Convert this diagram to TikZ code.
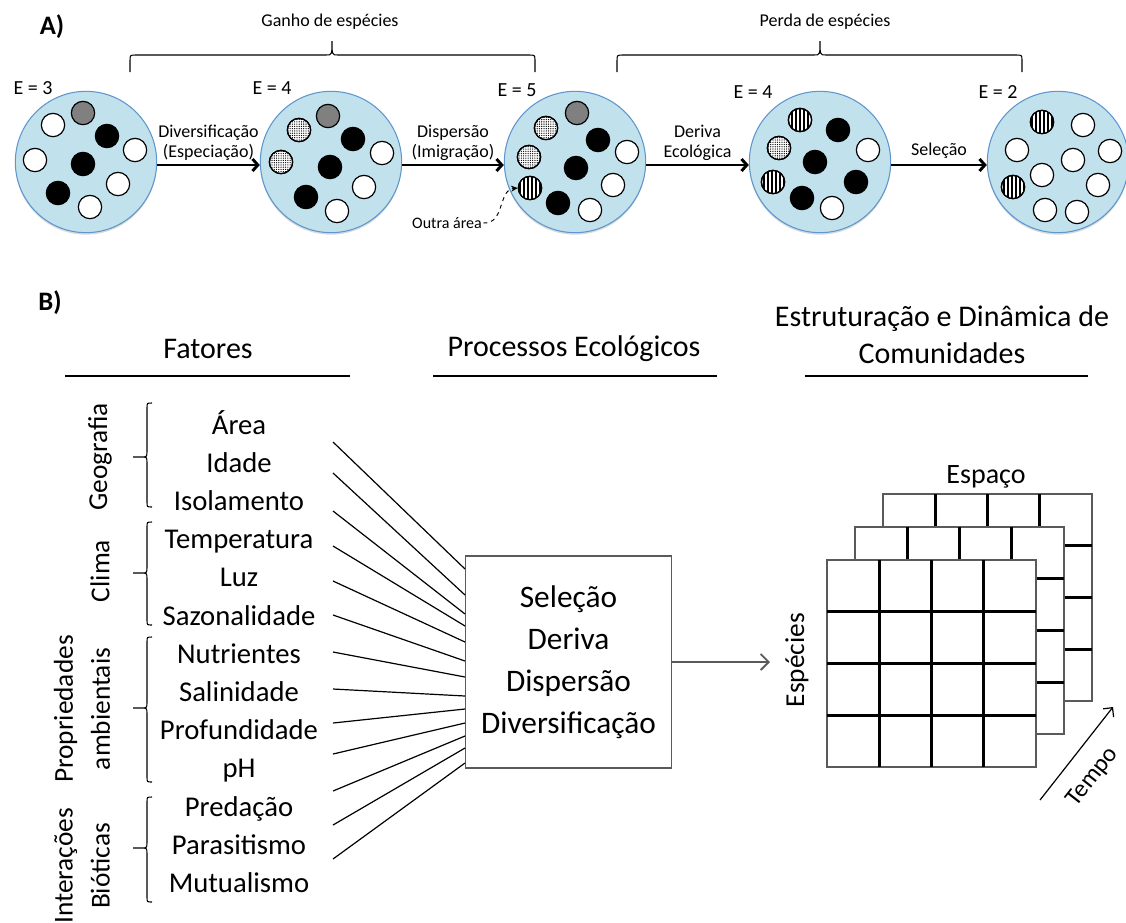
\documentclass[tikz,border=0pt]{standalone}
\usepackage{fontspec}
\setmainfont{Carlito}
\usetikzlibrary{arrows.meta,shadows,patterns.meta}

\definecolor{tankfill}{RGB}{193,226,236}
\definecolor{tankline}{RGB}{95,150,205}
\definecolor{ballgray}{RGB}{128,128,128}
\definecolor{edgegray}{RGB}{90,90,90}

\tikzset{
  tank/.style={circle, minimum size=106pt, inner sep=0pt, fill=tankfill, draw=tankline, line width=0.8pt,
    drop shadow={opacity=0.3, shadow xshift=0pt, shadow yshift=-1.5pt}},
  spwhite/.style={circle, minimum size=17.5pt, inner sep=0pt, draw, line width=0.9pt, fill=white},
  spblack/.style={spwhite, fill=black},
  spgray/.style={spwhite, fill=ballgray},
  spdots/.style={spwhite, postaction={pattern={Dots[radius=0.5pt,distance=1.7pt]}}, postaction={draw, line width=0.9pt}},
  spstripe/.style={spwhite, postaction={pattern={Lines[angle=90,distance=3pt,line width=1.3pt]}}, postaction={draw, line width=0.9pt}},
  flow/.style={line width=2.2pt, -{Straight Barb[length=4pt,width=9pt]}},
  lbl/.style={font=\fontsize{13.5}{15}\selectfont, align=center, inner sep=1pt},
  elbl/.style={font=\fontsize{15}{17}\selectfont},
  panel/.style={font=\fontsize{20}{24}\selectfont\bfseries},
  head/.style={font=\fontsize{22.5}{28}\selectfont, align=center},
  factor/.style={font=\fontsize{21.5}{26}\selectfont, anchor=base},
  group/.style={font=\fontsize{20.5}{27.75}\selectfont, align=center, rotate=90},
  rulebar/.style={line width=2.2pt},
  link/.style={line width=0.9pt},
  procbox/.style={draw=edgegray, line width=0.9pt, minimum width=155pt, minimum height=159pt,
    align=center, font=\fontsize{23.5}{31.5}\selectfont},
  cellbar/.style={line width=2.2pt},
  outarrow/.style={draw=edgegray, line width=1pt, -{Straight Barb[length=6pt,width=12pt,line width=1.4pt]}}
}

\begin{document}
\begin{tikzpicture}[x=0.75pt, y=-0.75pt]
\useasboundingbox (0,0) rectangle (1126,922);

% A) species gain and loss
\node[panel] (pa) at (52,27) {A)};
\draw[line width=0.8pt] (130,72) -- (130,61) .. controls (130,55) .. (136,55) -- (326,55)
  .. controls (332,55) .. (332,41) .. controls (332,55) .. (338,55) -- (529,55)
  .. controls (535,55) .. (535,61) -- (535,72);
\draw[line width=0.8pt] (617,72) -- (617,61) .. controls (617,55) .. (623,55) -- (814,55)
  .. controls (820,55) .. (820,41) .. controls (820,55) .. (826,55) -- (1016,55)
  .. controls (1022,55) .. (1022,61) -- (1022,72);
\node[lbl] (gain) at (330,22) {Ganho de espécies};
\node[lbl] (loss) at (825,22) {Perda de espécies};

\node[tank] (c1) at (86,162) {};
\node[tank] (c2) at (331,162) {};
\node[tank] (c3) at (575,162) {};
\node[tank] (c4) at (820,162) {};
\node[tank] (c5) at (1058,162) {};

\node[elbl] (e1) at (33,88) {E = 3};
\node[elbl] (e2) at (272,88) {E = 4};
\node[elbl] (e3) at (517,90) {E = 5};
\node[elbl] (e4) at (753,92) {E = 4};
\node[elbl] (e5) at (998,92) {E = 2};

% community 1
\node[spgray] (c1a) at (83,113) {};
\node[spwhite] (c1b) at (53,125) {};
\node[spblack] (c1c) at (107,136) {};
\node[spwhite] (c1d) at (135,150) {};
\node[spwhite] (c1e) at (35,160) {};
\node[spblack] (c1f) at (83,164) {};
\node[spwhite] (c1g) at (118,184) {};
\node[spblack] (c1h) at (58,193) {};
\node[spwhite] (c1i) at (90,207) {};
% community 2
\node[spgray] (c2a) at (328,116) {};
\node[spdots] (c2b) at (299,130) {};
\node[spblack] (c2c) at (353,139) {};
\node[spwhite] (c2d) at (382,153) {};
\node[spdots] (c2e) at (281,162) {};
\node[spblack] (c2f) at (330,167) {};
\node[spwhite] (c2g) at (364,187) {};
\node[spblack] (c2h) at (306,197) {};
\node[spwhite] (c2i) at (337,211) {};
% community 3
\node[spgray] (c3a) at (577,113) {};
\node[spdots] (c3b) at (546,128) {};
\node[spblack] (c3c) at (598,140) {};
\node[spwhite] (c3d) at (627,152) {};
\node[spdots] (c3e) at (529,157) {};
\node[spblack] (c3f) at (576,168) {};
\node[spwhite] (c3g) at (613,185) {};
\node[spstripe] (c3h) at (530,188) {};
\node[spblack] (c3i) at (558,203) {};
\node[spwhite] (c3j) at (590,210) {};
% community 4
\node[spstripe] (c4a) at (800,120) {};
\node[spblack] (c4b) at (838,130) {};
\node[spdots] (c4c) at (779,148) {};
\node[spwhite] (c4d) at (868,150) {};
\node[spblack] (c4e) at (815,162) {};
\node[spstripe] (c4f) at (773,182) {};
\node[spblack] (c4g) at (856,182) {};
\node[spblack] (c4h) at (802,198) {};
\node[spwhite] (c4i) at (832,208) {};
% community 5
\node[spstripe] (c5a) at (1042,122) {};
\node[spwhite] (c5b) at (1083,125) {};
\node[spwhite] (c5c) at (1017,150) {};
\node[spwhite] (c5d) at (1110,151) {};
\node[spwhite] (c5e) at (1073,160) {};
\node[spwhite] (c5f) at (1042,175) {};
\node[spstripe] (c5g) at (1013,187) {};
\node[spwhite] (c5h) at (1098,185) {};
\node[spwhite] (c5i) at (1045,210) {};
\node[spwhite] (c5j) at (1077,212) {};

\draw[flow] ([yshift=-2.25pt]c1.east) -- ([yshift=-2.25pt]c2.west)
  node[midway, above=1pt, lbl] {Diversificação\\(Especiação)};
\draw[flow] ([yshift=-2.25pt]c2.east) -- ([yshift=-2.25pt]c3.west)
  node[midway, above=1pt, lbl] {Dispersão\\(Imigração)};
\draw[flow] ([yshift=-2.25pt]c3.east) -- ([yshift=-2.25pt]c4.west)
  node[midway, above=1pt, lbl] {Deriva\\Ecológica};
\draw[flow] ([yshift=-2.25pt]c4.east) -- ([yshift=-2.25pt]c5.west)
  node[midway, above=3pt, lbl] {Seleção};

\node[lbl, font=\fontsize{12}{14}\selectfont] (outra) at (447,223) {Outra área};
\draw[line width=0.7pt, dashed, -{Stealth[length=5pt,width=4.5pt]}]
  (outra.east) .. controls (505,224) and (498,190) .. (c3h.west);

% B) factors, processes, communities
\node[panel] (pb) at (50,303) {B)};
\node[head] (hfat) at (208,349) {Fatores};
\node[head] (hproc) at (574,349) {Processos Ecológicos};
\node[head] (hcom) at (942,335) {Estruturação e Dinâmica de\\Comunidades};
\draw[rulebar] (65,376) -- (350,376);
\draw[rulebar] (433,376) -- (717,376);
\draw[rulebar] (805,376) -- (1088,376);

\foreach \t [count=\i] in {Área, Idade, Isolamento, Temperatura, Luz, Sazonalidade, Nutrientes,
  Salinidade, Profundidade, pH, Predação, Parasitismo, Mutualismo}
  \node[factor] (f\i) at (239, {434+38.2*(\i-1)}) {\t};

\foreach \top/\bot/\mid in {403/507/457, 522/625/573, 637/782/708, 797/902/848}
  \draw[line width=0.8pt] (152,\top) .. controls (147,\top) .. (147,\top+5) -- (147,\mid-6)
    .. controls (147,\mid) .. (141,\mid) -- (133,\mid)
    (141,\mid) .. controls (147,\mid) .. (147,\mid+6) -- (147,\bot-5)
    .. controls (147,\bot) .. (152,\bot);

\node[group] (g1) at (100,457) {Geografia};
\node[group] (g2) at (100,571) {Clima};
\node[group] (g3) at (82,709) {Propriedades\\ambientais};
\node[group] (g4) at (82,866) {Interações\\Bióticas};

\node[procbox] (proc) at (568.5,662) {Seleção\\Deriva\\Dispersão\\Diversificação};

\foreach \i/\sy/\ey in {1/442/569, 2/473/595, 3/511/614, 4/546/626, 5/581/642, 6/615/661, 7/652/677,
  8/689/696, 9/723/709, 10/754/723, 11/791/736, 12/825/748, 13/859/763}{
  \coordinate (s\i) at (333,\sy);
  \coordinate (e\i) at (465,\ey);
  \draw[link] (s\i) -- (e\i);
}

\coordinate (comm) at (770,662);
\draw[outarrow] (proc.east) -- (comm);

\foreach \dx/\dy in {56/-66, 28/-33, 0/0}{
  \begin{scope}[shift={(\dx,\dy)}]
    \filldraw[fill=white, draw=edgegray, line width=0.8pt] (827,560) rectangle (1036,767);
    \foreach \k in {1,2,3}{
      \draw[cellbar] ({827+52.25*\k},560) -- ({827+52.25*\k},767);
      \draw[cellbar] (827,{560+51.75*\k}) -- (1036,{560+51.75*\k});
    }
  \end{scope}
}

\node[group] (esp) at (797,660) {Espécies};
\node[head, font=\fontsize{21}{25}\selectfont] (spc) at (986,477) {Espaço};
\coordinate (t0) at (1040,800);
\coordinate (t1) at (1113,707);
\draw[line width=0.9pt, -{Straight Barb[length=5pt,width=10pt]}] (t0) -- (t1);
\node[font=\fontsize{18.5}{22}\selectfont, rotate=52, inner sep=0pt] (tmp) at (1093,777) {Tempo};
\end{tikzpicture}
\end{document}
